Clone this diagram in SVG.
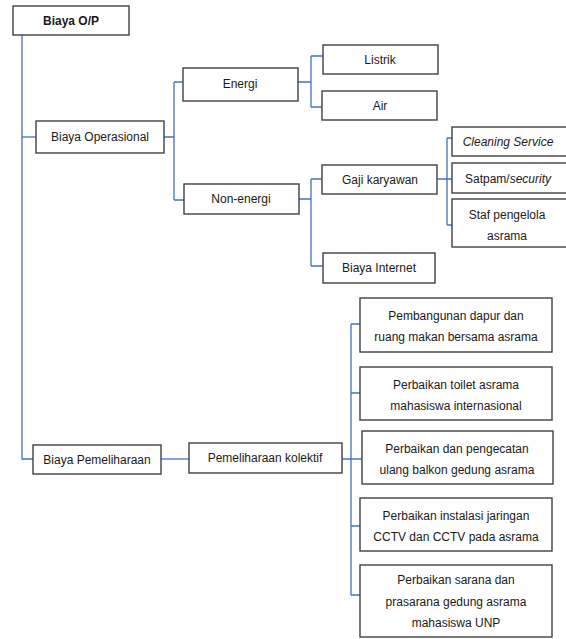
<svg xmlns="http://www.w3.org/2000/svg" width="566" height="639" viewBox="0 0 566 639">
<style>
.box{fill:#fff;stroke:#404040;stroke-width:1.4}
.t{font-family:"Liberation Sans",Arial,sans-serif;font-size:12px;fill:#1a1a1a;text-anchor:middle}
.b{font-weight:bold}
.i{font-style:italic}
.c{fill:none;stroke:#4472C4;stroke-width:1.3}
</style>
<rect width="566" height="639" fill="#fff"/>
<g id="connectors">
<path class="c" d="M22 35V459H33"/>
<path class="c" d="M22 137H36"/>
<path class="c" d="M164 137H174M174 82V200M174 82H183M174 200H184"/>
<path class="c" d="M298 82H311M311 56V107M311 56H323M311 107H322"/>
<path class="c" d="M299 199H311M311 179V266M311 179H322M311 266H323"/>
<path class="c" d="M437 179H447M447 138V225M447 138H452M447 179H452M447 225H452"/>
<path class="c" d="M161 459H189"/>
<path class="c" d="M342 459H362M351 324V595M351 324H360M351 393H360M351 526H360M351 595H360"/>
</g>
<g id="biaya-op"><rect class="box" x="13" y="6" width="116" height="29"/><text class="t b" x="71" y="25">Biaya O/P</text></g>
<g id="biaya-operasional"><rect class="box" x="36" y="121" width="128" height="32"/><text class="t" x="100" y="141">Biaya Operasional</text></g>
<g id="energi"><rect class="box" x="183" y="68" width="115" height="33"/><text class="t" x="240" y="88">Energi</text></g>
<g id="non-energi"><rect class="box" x="184" y="184" width="115" height="30"/><text class="t" x="241" y="203">Non-energi</text></g>
<g id="listrik"><rect class="box" x="323" y="45" width="115" height="29"/><text class="t" x="380" y="64">Listrik</text></g>
<g id="air"><rect class="box" x="322" y="91" width="115" height="29"/><text class="t" x="380" y="110">Air</text></g>
<g id="gaji"><rect class="box" x="322" y="165" width="115" height="29"/><text class="t" x="380" y="184">Gaji karyawan</text></g>
<g id="internet"><rect class="box" x="323" y="253" width="112" height="30"/><text class="t" x="379" y="272">Biaya Internet</text></g>
<g id="cleaning"><rect class="box" x="452" y="127" width="120" height="29"/><text class="t i" x="508" y="146">Cleaning Service</text></g>
<g id="satpam"><rect class="box" x="452" y="163" width="120" height="30"/><text class="t" x="508" y="183">Satpam/<tspan class="i">security</tspan></text></g>
<g id="staf"><rect class="box" x="452" y="199" width="120" height="48"/><text class="t" x="507" y="219">Staf pengelola</text><text class="t" x="507" y="240">asrama</text></g>
<g id="biaya-pemeliharaan"><rect class="box" x="33" y="445" width="128" height="29"/><text class="t" x="97" y="464">Biaya Pemeliharaan</text></g>
<g id="pemeliharaan-kolektif"><rect class="box" x="189" y="443" width="153" height="30"/><text class="t" x="265" y="462">Pemeliharaan kolektif</text></g>
<g id="p1"><rect class="box" x="360" y="298" width="192" height="54"/><text class="t" x="456" y="320">Pembangunan dapur dan</text><text class="t" x="456" y="341">ruang makan bersama asrama</text></g>
<g id="p2"><rect class="box" x="360" y="367" width="192" height="53"/><text class="t" x="456" y="389">Perbaikan toilet asrama</text><text class="t" x="456" y="410">mahasiswa internasional</text></g>
<g id="p3"><rect class="box" x="362" y="431" width="191" height="53"/><text class="t" x="457" y="453">Perbaikan dan pengecatan</text><text class="t" x="457" y="474">ulang balkon gedung asrama</text></g>
<g id="p4"><rect class="box" x="360" y="498" width="192" height="53"/><text class="t" x="456" y="520">Perbaikan instalasi jaringan</text><text class="t" x="456" y="541">CCTV dan CCTV pada asrama</text></g>
<g id="p5"><rect class="box" x="360" y="565" width="192" height="72"/><text class="t" x="456" y="584">Perbaikan sarana dan</text><text class="t" x="456" y="606">prasarana gedung asrama</text><text class="t" x="456" y="627">mahasiswa UNP</text></g>
</svg>
